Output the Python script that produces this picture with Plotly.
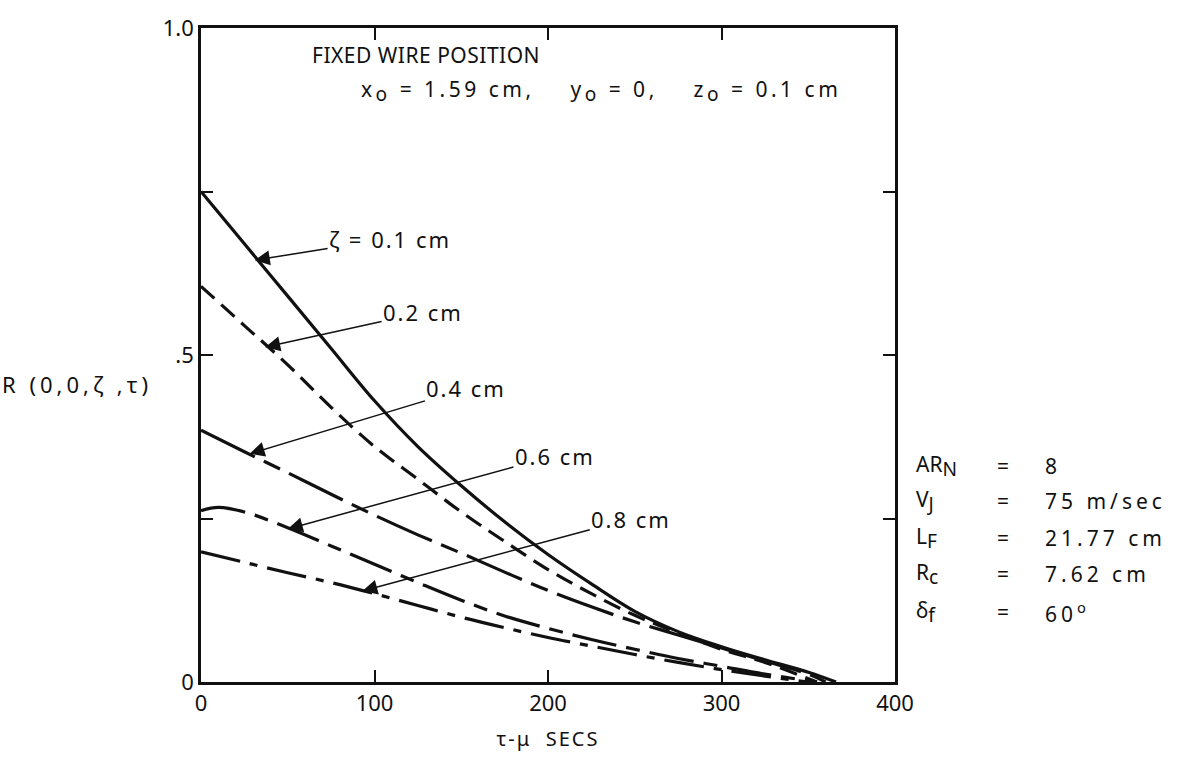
import plotly.graph_objects as go

# correlation curves R(0,0,zeta,tau) for several probe separations
tau_01 = [0, 25, 50, 75, 100, 125, 150, 175, 200, 225, 250, 275, 300, 325, 350, 366]
r_01 = [0.75, 0.67, 0.59, 0.51, 0.43, 0.36, 0.30, 0.245, 0.195, 0.15, 0.108, 0.077, 0.054, 0.034, 0.015, 0.0]

tau_02 = [0, 25, 50, 75, 100, 125, 150, 175, 200, 225, 250, 275, 300, 325, 355]
r_02 = [0.605, 0.545, 0.485, 0.42, 0.36, 0.31, 0.26, 0.215, 0.172, 0.135, 0.102, 0.075, 0.05, 0.03, 0.0]

tau_04 = [0, 25, 50, 75, 100, 125, 150, 175, 200, 225, 250, 275, 300, 325, 350, 360]
r_04 = [0.385, 0.352, 0.32, 0.287, 0.255, 0.225, 0.197, 0.168, 0.14, 0.115, 0.092, 0.072, 0.052, 0.032, 0.012, 0.0]

tau_06 = [0, 10, 25, 50, 75, 100, 125, 150, 175, 200, 225, 250, 275, 300, 325, 355]
r_06 = [0.262, 0.267, 0.26, 0.236, 0.208, 0.18, 0.152, 0.125, 0.101, 0.082, 0.065, 0.05, 0.036, 0.024, 0.012, 0.0]

tau_08 = [0, 25, 50, 75, 100, 125, 150, 175, 200, 225, 250, 275, 300, 325, 350]
r_08 = [0.199, 0.183, 0.167, 0.152, 0.135, 0.117, 0.099, 0.083, 0.068, 0.055, 0.042, 0.03, 0.019, 0.009, 0.0]

x_ticks = [0, 100, 200, 300, 400]
y_ticks = [0, 0.25, 0.5, 0.75, 1.0]
y_tick_text = ["0", "", ".5", "", "1.0"]

FONT = "Noto Sans"
INK = "#111111"


def spaced(s, px=2):
    return f'<span style="letter-spacing:{px}px">{s}</span>'


def low(s):
    # full-size lowered subscript, as lettered on the drawing
    return f'<sub><span style="font-size:1.3em">{s}</span></sub>'


series = [
    (tau_01, r_01, "solid"),
    (tau_02, r_02, "18px,9px"),
    (tau_04, r_04, "60px,10px,18px,10px"),
    (tau_06, r_06, "45px,10px,14px,10px"),
    (tau_08, r_08, "40px,10px,8px,10px"),
]

fig = go.Figure()
for xs, ys, dash in series:
    fig.add_trace(go.Scatter(
        x=xs, y=ys, mode="lines", line_shape="spline",
        line=dict(color=INK, width=3.2, dash=dash),
        showlegend=False, hoverinfo="skip"))

# arrow labels: (label, head tau, head R, text tau, text R)
labels = [
    ("\u03b6 = 0.1 cm", 31, 0.645, 109, 0.678),
    ("0.2 cm", 37, 0.512, 128, 0.565),
    ("0.4 cm", 28, 0.349, 153, 0.449),
    ("0.6 cm", 50, 0.234, 204, 0.346),
    ("0.8 cm", 93, 0.139, 248, 0.25),
]
for txt, hx, hy, tx, ty in labels:
    fig.add_annotation(
        x=hx, y=hy, ax=tx, ay=ty, xref="x", yref="y", axref="x", ayref="y",
        text=spaced(txt, 2), showarrow=True, arrowhead=2, arrowsize=2.0, arrowwidth=1.5,
        arrowcolor=INK, font=dict(family=FONT, size=22, color=INK))

fig.add_annotation(x=63, y=0.958, xref="x", yref="y", text=spaced("FIXED WIRE POSITION", 0.5),
                   showarrow=False, xanchor="left",
                   font=dict(family=FONT, size=21, color=INK))
fig.add_annotation(
    x=91, y=0.903, xref="x", yref="y", showarrow=False, xanchor="left",
    text=spaced("x" + low("o") + " = 1.59 cm,    y" + low("o") + " = 0,    z"
                + low("o") + " = 0.1 cm", 3.5),
    font=dict(family=FONT, size=21, color=INK))

# flow parameters to the right of the frame
params = [
    ("AR" + low("N"), "8"),
    ("V" + low("J"), "75 m/sec"),
    ("L" + low("F"), "21.77 cm"),
    ("R" + low("c"), "7.62 cm"),
    ("\u03b4" + low("f"), "60<sup>o</sup>"),
]
rows_y = [0.33, 0.277, 0.22, 0.165, 0.107]
for (name, val), yy in zip(params, rows_y):
    fig.add_annotation(x=1.028, y=yy, xref="paper", yref="y", text=name,
                       showarrow=False, xanchor="left",
                       font=dict(family=FONT, size=21, color=INK))
    fig.add_annotation(x=1.155, y=yy, xref="paper", yref="y", text="=",
                       showarrow=False, xanchor="center",
                       font=dict(family=FONT, size=21, color=INK))
    fig.add_annotation(x=1.213, y=yy, xref="paper", yref="y", text=spaced(val, 4),
                       showarrow=False, xanchor="left",
                       font=dict(family=FONT, size=21, color=INK))

fig.update_layout(
    width=1196, height=762,
    margin=dict(l=201, r=301, t=18, b=80),
    paper_bgcolor="white", plot_bgcolor="white",
    font=dict(family=FONT, color=INK),
    xaxis=dict(
        range=[0, 400], tickvals=x_ticks, ticktext=[str(v) for v in x_ticks],
        ticks="inside", ticklen=12, tickwidth=2, tickcolor=INK,
        showline=True, linewidth=2.5, linecolor=INK, mirror="ticks",
        showgrid=False, zeroline=False,
        tickfont=dict(family=FONT, size=22, color=INK),
        title=dict(text=spaced("\u03c4-\u03bc  SECS", 2),
                   font=dict(family=FONT, size=20, color=INK), standoff=16)),
    yaxis=dict(
        range=[0, 1.0], tickvals=y_ticks, ticktext=y_tick_text,
        ticks="inside", ticklen=12, tickwidth=2, tickcolor=INK,
        showline=True, linewidth=2.5, linecolor=INK, mirror="ticks",
        showgrid=False, zeroline=False,
        tickfont=dict(family=FONT, size=22, color=INK)),
)

fig.add_annotation(x=-0.29, y=0.455, xref="paper", yref="paper",
                   text=spaced("R (0,0,\u03b6 ,\u03c4)", 4), showarrow=False, xanchor="left",
                   font=dict(family=FONT, size=22, color=INK))

fig.write_html("out.html")
